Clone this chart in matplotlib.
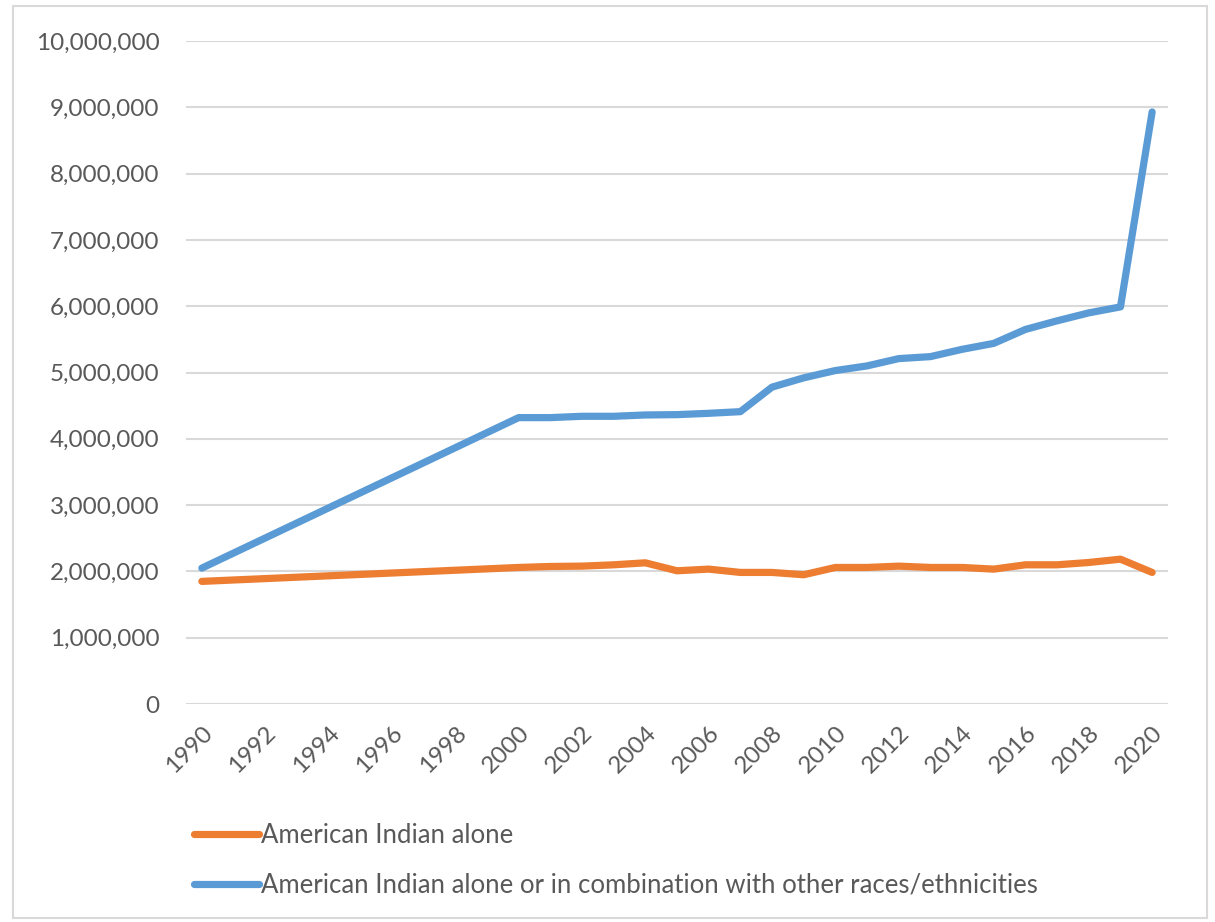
import matplotlib.pyplot as plt
import matplotlib.patches as patches
from matplotlib.ticker import FuncFormatter

# years with data (the straight 1990-2000 segment has no yearly points)
years = [1990, 2000, 2001, 2002, 2003, 2004, 2005, 2006, 2007, 2008, 2009,
         2010, 2011, 2012, 2013, 2014, 2015, 2016, 2017, 2018, 2019, 2020]

alone = [1850000, 2060000, 2075000, 2080000, 2100000, 2130000, 2010000,
         2035000, 1985000, 1985000, 1950000, 2060000, 2060000, 2080000,
         2060000, 2060000, 2035000, 2100000, 2100000, 2135000, 2185000,
         1985000]

combined = [2050000, 4320000, 4320000, 4340000, 4340000, 4360000, 4365000,
            4385000, 4410000, 4780000, 4920000, 5030000, 5100000, 5210000,
            5240000, 5350000, 5440000, 5650000, 5780000, 5900000, 5990000,
            8930000]

labels = ['American Indian alone',
          'American Indian alone or in combination with other races/ethnicities']
xticks = list(range(1990, 2021, 2))
yticks = list(range(0, 10000001, 1000000))

plt.rcParams['font.family'] = ['Lato', 'DejaVu Sans']
text_color = '#595959'
grid_color = '#d9d9d9'

fig = plt.figure(figsize=(12.15, 9.22), dpi=100)
ax = fig.add_axes([0.1531, 0.2364, 0.8082, 0.7191])

ax.plot(years, alone, color='#ED7D31', lw=5.2, label=labels[0],
        solid_capstyle='round', solid_joinstyle='round', zorder=3)
ax.plot(years, combined, color='#5B9BD5', lw=5.2, label=labels[1],
        solid_capstyle='round', solid_joinstyle='round', zorder=4)

ax.set_xlim(1989.5, 2020.5)
ax.set_ylim(0, 10000000)
ax.set_yticks(yticks)
ax.set_xticks(xticks)
ax.yaxis.set_major_formatter(FuncFormatter(lambda v, p: f'{int(v):,}'))
ax.grid(axis='y', color=grid_color, lw=1.5)
ax.set_axisbelow(True)
for s in ['top', 'right', 'left', 'bottom']:
    ax.spines[s].set_visible(False)
ax.tick_params(axis='both', length=0, labelsize=17.5, colors=text_color)
ax.tick_params(axis='y', pad=19)
ax.tick_params(axis='x', pad=13)
plt.setp(ax.get_xticklabels(), rotation=45, ha='right', rotation_mode='anchor')

leg = ax.legend(loc='upper left', bbox_to_anchor=(0.141, 0.132),
                bbox_transform=fig.transFigure, frameon=False, fontsize=18.5,
                handlelength=2.5, handletextpad=0.1, labelspacing=0.95,
                labelcolor=text_color)

# chart border
fig.add_artist(patches.Rectangle((13 / 1215, 1 - 918 / 922), 1194 / 1215, 912 / 922,
                                 transform=fig.transFigure, fill=False,
                                 edgecolor=grid_color, lw=1.5))

fig.savefig('out.png', dpi=100, facecolor='white')
